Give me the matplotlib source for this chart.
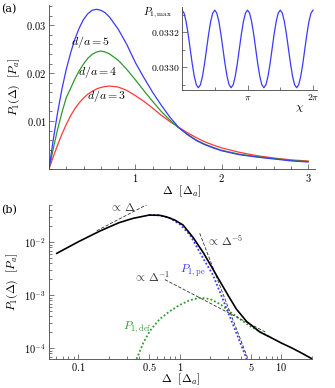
import numpy as np
import matplotlib
matplotlib.use("Agg")
import matplotlib.pyplot as plt
from matplotlib.ticker import FixedLocator, MultipleLocator, LogLocator, NullFormatter

plt.rcParams["mathtext.fontset"] = "cm"
plt.rcParams["font.family"] = ["DejaVu Serif"]

# ---- panel (a): P1(Delta) for three d/a values ----
delta_a = [0, 0.05, 0.1, 0.15, 0.2, 0.25, 0.3, 0.35, 0.4, 0.45, 0.5, 0.55, 0.6, 0.65,
           0.7, 0.8, 0.9, 1.0, 1.1, 1.2, 1.3, 1.4, 1.5, 1.6, 1.7, 1.8, 1.9, 2.0,
           2.2, 2.4, 2.6, 2.8, 3.0]
p_d5 = [0, 0.0062, 0.0118, 0.0167, 0.0208, 0.0242, 0.0271, 0.0294, 0.0312, 0.0324,
        0.0331, 0.0333, 0.0331, 0.0326, 0.0317, 0.0292, 0.0260, 0.0222, 0.0190,
        0.0160, 0.0133, 0.0108, 0.0087, 0.0072, 0.0060, 0.0051, 0.0044, 0.0038,
        0.0030, 0.0025, 0.0021, 0.0017, 0.00146]
p_d4 = [0, 0.0043, 0.0083, 0.0118, 0.0149, 0.0168, 0.0188, 0.0205, 0.0219, 0.0231,
        0.0239, 0.0244, 0.0246, 0.0244, 0.0240, 0.0227, 0.0208, 0.0186, 0.0163,
        0.0141, 0.0120, 0.0102, 0.0086, 0.0073, 0.0061, 0.0052, 0.0045, 0.0039,
        0.0031, 0.0026, 0.0022, 0.0018, 0.00155]
p_d3 = [0, 0.0026, 0.0050, 0.0073, 0.0093, 0.0111, 0.0126, 0.0138, 0.0148, 0.0156,
        0.0162, 0.0167, 0.0170, 0.0172, 0.0173, 0.0171, 0.0164, 0.0153, 0.0141,
        0.0127, 0.0112, 0.0099, 0.0087, 0.0076, 0.0066, 0.0057, 0.0050, 0.0044,
        0.0035, 0.0028, 0.0023, 0.0019, 0.00167]

# inset: P1,max versus chi
chi = np.linspace(0, 2 * np.pi, 65)
p_max = [0.033327, 0.033310, 0.033262, 0.033190, 0.033105, 0.033020, 0.032948, 0.032900,
         0.032883, 0.032900, 0.032948, 0.033020, 0.033105, 0.033190, 0.033262, 0.033310,
         0.033327, 0.033310, 0.033262, 0.033190, 0.033105, 0.033020, 0.032948, 0.032900,
         0.032883, 0.032900, 0.032948, 0.033020, 0.033105, 0.033190, 0.033262, 0.033310,
         0.033327, 0.033310, 0.033262, 0.033190, 0.033105, 0.033020, 0.032948, 0.032900,
         0.032883, 0.032900, 0.032948, 0.033020, 0.033105, 0.033190, 0.033262, 0.033310,
         0.033327, 0.033310, 0.033262, 0.033190, 0.033105, 0.033020, 0.032948, 0.032900,
         0.032883, 0.032900, 0.032948, 0.033020, 0.033105, 0.033190, 0.033262, 0.033310,
         0.033327]

# ---- panel (b): log-log, total and its parts (log10 values) ----
logd_tot = [-1.212, -1.0, -0.787, -0.6, -0.459, -0.3, -0.2, -0.131, -0.05, 0.032, 0.131,
            0.229, 0.312, 0.393, 0.475, 0.557, 0.656, 0.787, 0.9, 1.0, 1.1, 1.2, 1.295]
logp_tot = [-2.208, -1.99, -1.787, -1.63, -1.547, -1.485, -1.49, -1.52, -1.58, -1.674, -1.91,
            -2.19, -2.46, -2.73, -3.0, -3.26, -3.49, -3.69, -3.80, -3.90, -3.99, -4.09, -4.19]
logd_pe = [-0.3, -0.2, -0.1, 0.0, 0.1, 0.229, 0.327, 0.393, 0.5, 0.6, 0.67]
logp_pe = [-1.485, -1.49, -1.54, -1.66, -1.86, -2.30, -2.62, -2.93, -3.44, -3.92, -4.26]
logd_def = [-0.426, -0.36, -0.295, -0.2, -0.1, 0.0, 0.1, 0.2, 0.3, 0.4, 0.5, 0.6, 0.7,
            0.8, 0.9]
logp_def = [-4.2, -3.9, -3.67, -3.45, -3.30, -3.18, -3.09, -3.045, -3.07, -3.17, -3.32,
            -3.46, -3.59, -3.70, -3.80]

# asymptote segments: (Delta, P) end points
asym_lin = ([0.152, 0.475], [0.0165, 0.0516])
asym_m5 = ([1.57, 4.69], [0.0148, 6.3e-5])
asym_m1 = ([0.713, 7.1], [0.00198, 0.000199])

W, H = 335, 388
fig = plt.figure(figsize=(W / 100, H / 100), dpi=100)

def frac(l, t, r, b):
    return [l / W, 1 - b / H, (r - l) / W, (b - t) / H]

fs = 7.5
blue = "#3a3aff"
green = "#2e9a2e"
red = "#ff3a3a"

def style(ax):
    for s in ("top", "right"):
        ax.spines[s].set_visible(False)
    for s in ("left", "bottom"):
        ax.spines[s].set_linewidth(0.6)
        ax.spines[s].set_color("#444444")
    ax.tick_params(which="both", direction="in", width=0.5, colors="#444444",
                   labelcolor="black", labelsize=fs, pad=2)
    ax.tick_params(which="major", length=3.5)
    ax.tick_params(which="minor", length=2)

# panel (a)
ax1 = fig.add_axes(frac(49, 5, 315, 169))
ax1.plot(delta_a, p_d3, color=red, lw=0.9)
ax1.plot(delta_a, p_d4, color=green, lw=0.9)
ax1.plot(delta_a, p_d5, color=blue, lw=0.9)
ax1.set_xlim(0, 3.08)
ax1.set_ylim(0, 0.0342)
style(ax1)
ax1.xaxis.set_major_locator(FixedLocator([1, 2, 3]))
ax1.set_xticklabels(["$1$", "$2$", "$3$"])
ax1.xaxis.set_minor_locator(MultipleLocator(0.2))
ax1.yaxis.set_major_locator(FixedLocator([0.01, 0.02, 0.03]))
ax1.set_yticklabels(["$0.01$", "$0.02$", "$0.03$"])
ax1.yaxis.set_minor_locator(MultipleLocator(0.002))
ax1.set_xlabel(r"$\Delta\ \ [\Delta_a]$", fontsize=fs + 1, labelpad=0)
ax1.set_ylabel(r"$P_1(\Delta)\ \ [P_a]$", fontsize=fs + 1, labelpad=3)
ax1.text(0.477, 0.0265, "$d/a=5$", fontsize=fs + 1, ha="center", va="center")
ax1.text(0.558, 0.0202, "$d/a=4$", fontsize=fs + 1, ha="center", va="center")
ax1.text(0.66, 0.0152, "$d/a=3$", fontsize=fs + 1, ha="center", va="center")

# inset
ax2 = fig.add_axes(frac(182, 7, 317, 90))
ax2.plot(chi, p_max, color=blue, lw=0.9)
ax2.set_xlim(0, 2 * np.pi + 0.19)
ax2.set_ylim(0.03287, 0.033345)
style(ax2)
ax2.xaxis.set_major_locator(FixedLocator([np.pi, 2 * np.pi]))
ax2.set_xticklabels([r"$\pi$", r"$2\pi$"])
ax2.xaxis.set_minor_locator(FixedLocator([np.pi / 2, 3 * np.pi / 2]))
ax2.yaxis.set_major_locator(FixedLocator([0.0330, 0.0332]))
ax2.set_yticklabels(["$0.0330$", "$0.0332$"])
ax2.yaxis.set_minor_locator(MultipleLocator(0.0001))
ax2.tick_params(labelsize=fs - 0.5)
fig.text(158 / W, 1 - 13 / H, r"$P_{1,\mathrm{max}}$", fontsize=fs, ha="center", va="center")
fig.text(300 / W, 1 - 108 / H, r"$\chi$", fontsize=fs + 1, ha="center", va="center")

# panel (b)
ax3 = fig.add_axes(frac(49, 205, 312, 359))
ax3.plot(10 ** np.array(logd_def), 10 ** np.array(logp_def), color=green, lw=1.3, ls=(0, (1, 1.2)))
ax3.plot(10 ** np.array(logd_pe), 10 ** np.array(logp_pe), color=blue, lw=1.3, ls=(0, (1, 1.2)))
for xs, ys in (asym_lin, asym_m5, asym_m1):
    ax3.plot(xs, ys, color="#333333", lw=0.6, ls=(0, (4, 2)))
ax3.plot(10 ** np.array(logd_tot), 10 ** np.array(logp_tot), color="black", lw=1.2)
ax3.set_xscale("log")
ax3.set_yscale("log")
ax3.set_xlim(0.0515, 20)
ax3.set_ylim(6.3e-5, 0.0506)
style(ax3)
ax3.xaxis.set_major_locator(FixedLocator([0.1, 0.5, 1, 5, 10]))
ax3.set_xticklabels(["$0.1$", "$0.5$", "$1$", "$5$", "$10$"])
ax3.xaxis.set_minor_locator(LogLocator(base=10, subs=np.arange(2, 10) * 1.0))
ax3.xaxis.set_minor_formatter(NullFormatter())
ax3.yaxis.set_major_locator(FixedLocator([1e-4, 1e-3, 1e-2]))
ax3.set_yticklabels(["$10^{-4}$", "$10^{-3}$", "$10^{-2}$"])
ax3.yaxis.set_minor_locator(LogLocator(base=10, subs=np.arange(2, 10) * 1.0))
ax3.yaxis.set_minor_formatter(NullFormatter())
ax3.tick_params(axis="x", pad=1.5)
ax3.set_xlabel(r"$\Delta\ \ [\Delta_a]$", fontsize=fs + 1, labelpad=-1)
ax3.set_ylabel(r"$P_1(\Delta)\ \ [P_a]$", fontsize=fs + 1, labelpad=3)
ax3.text(0.269, 0.0463, r"$\propto\,\Delta$", fontsize=fs + 1, ha="center", va="center", color="#333333")
ax3.text(2.77, 0.0101, r"$\propto\,\Delta^{-5}$", fontsize=fs + 1, ha="center", va="center", color="#333333")
ax3.text(0.53, 0.0022, r"$\propto\,\Delta^{-1}$", fontsize=fs + 1, ha="center", va="center", color="#333333")
ax3.text(1.34, 0.0030, r"$P_{1,\mathrm{pe}}$", fontsize=fs + 1, ha="center", va="center", color=blue)
ax3.text(0.385, 0.00025, r"$P_{1,\mathrm{def}}$", fontsize=fs + 1, ha="center", va="center", color=green)

fig.text(1 / W, 1 - 9 / H, "(a)", fontsize=fs + 0.5, ha="left", va="center", family="serif")
fig.text(1 / W, 1 - 210 / H, "(b)", fontsize=fs + 0.5, ha="left", va="center", family="serif")

fig.savefig("out.png", dpi=100)
